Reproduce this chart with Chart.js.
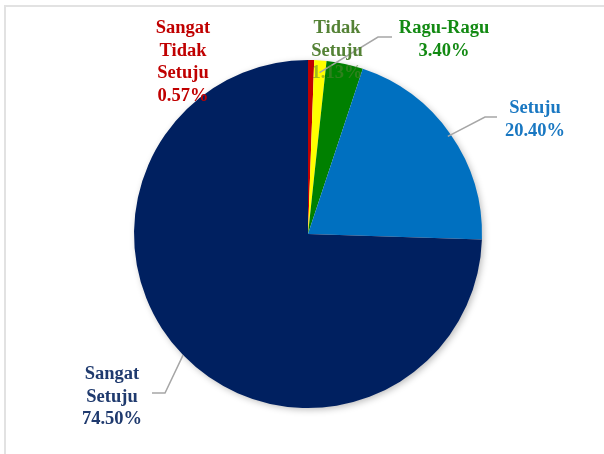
<!DOCTYPE html>
<html>
<head>
<meta charset="utf-8">
<script src="https://cdn.jsdelivr.net/npm/chart.js@4.4.0/dist/chart.umd.min.js"></script>
<style>
  html, body { margin: 0; padding: 0; background: #ffffff; }
  #wrap { position: relative; width: 604px; height: 454px; overflow: hidden; }
  #frame { position: absolute; left: 4px; top: 5px; width: 700px; height: 600px;
           border-top: 2px solid #e2e2e2; border-left: 2px solid #e2e2e2; }
  canvas { position: absolute; left: 0; top: 0; }
</style>
</head>
<body>
<div id="wrap">
  <div id="frame"></div>
  <canvas id="c" width="604" height="454"></canvas>
</div>
<script>
// ---- data ----
const categories = ["Sangat Tidak Setuju", "Tidak Setuju", "Ragu-Ragu", "Setuju", "Sangat Setuju"];
const values = [0.57, 1.13, 3.40, 20.40, 74.50];
const valueLabels = ["0.57%", "1.13%", "3.40%", "20.40%", "74.50%"];
const sliceColors = ["#c00000", "#ffff00", "#008000", "#0070c0", "#002060"];
const labelColors = ["#c00000", "#548235", "#138a13", "#1a78c2", "#1f3a6e"];
const labelLines = [
  ["Sangat", "Tidak", "Setuju"],
  ["Tidak", "Setuju"],
  ["Ragu-Ragu"],
  ["Setuju"],
  ["Sangat", "Setuju"]
];

// label layout (centre x, first-line y) and leader line elbows
const labelLayout = [
  { x: 183, y: 28.5, leader: null },
  { x: 337, y: 28.5, leader: [[392, 37], [378, 37]], r: 0.93 },
  { x: 444, y: 28.5, leader: null },
  { x: 535, y: 108.5, leader: [[497, 117], [485, 117]], r: 0.98 },
  { x: 112, y: 374.5, leader: [[152, 393], [165, 393]], r: 1.0 }
];

const shadowPlugin = {
  id: 'pieShadow',
  beforeDatasetsDraw(chart) {
    const arc = chart.getDatasetMeta(0).data[0];
    if (!arc) return;
    const ctx = chart.ctx;
    ctx.save();
    ctx.shadowColor = 'rgba(0,0,0,0.28)';
    ctx.shadowBlur = 7;
    ctx.shadowOffsetX = 2;
    ctx.shadowOffsetY = 2;
    ctx.fillStyle = '#ffffff';
    ctx.beginPath();
    ctx.arc(arc.x, arc.y, arc.outerRadius - 0.5, 0, Math.PI * 2);
    ctx.fill();
    ctx.restore();
  }
};

const labelPlugin = {
  id: 'pieLabels',
  afterDatasetsDraw(chart) {
    const ctx = chart.ctx;
    const meta = chart.getDatasetMeta(0);
    ctx.save();
    // leader lines
    ctx.strokeStyle = '#a6a6a6';
    ctx.lineWidth = 1.5;
    meta.data.forEach((arc, i) => {
      const L = labelLayout[i];
      if (!L.leader) return;
      const mid = (arc.startAngle + arc.endAngle) / 2;
      const rr = arc.outerRadius * L.r;
      const ex = arc.x + Math.cos(mid) * rr;
      const ey = arc.y + Math.sin(mid) * rr;
      ctx.beginPath();
      ctx.moveTo(L.leader[0][0], L.leader[0][1]);
      ctx.lineTo(L.leader[1][0], L.leader[1][1]);
      ctx.lineTo(ex, ey);
      ctx.stroke();
    });
    // text
    ctx.font = 'bold 18.5px "Liberation Serif", "Times New Roman", serif';
    ctx.textAlign = 'center';
    ctx.textBaseline = 'middle';
    const lh = 22.5;
    categories.forEach((c, i) => {
      const L = labelLayout[i];
      const lines = labelLines[i].concat([valueLabels[i]]);
      ctx.fillStyle = labelColors[i];
      lines.forEach((t, k) => {
        if (i === 1 && k === lines.length - 1) {
          ctx.globalAlpha = 0.55;
        }
        ctx.fillText(t, L.x, L.y + k * lh);
        ctx.globalAlpha = 1;
      });
    });
    ctx.restore();
  }
};

new Chart(document.getElementById('c'), {
  type: 'pie',
  data: {
    labels: categories,
    datasets: [{
      data: values,
      backgroundColor: sliceColors,
      borderWidth: 0
    }]
  },
  options: {
    responsive: false,
    animation: false,
    layout: { padding: { left: 134, right: 122, top: 60, bottom: 46 } },
    plugins: { legend: { display: false }, tooltip: { enabled: false } }
  },
  plugins: [shadowPlugin, labelPlugin]
});
</script>
</body>
</html>
